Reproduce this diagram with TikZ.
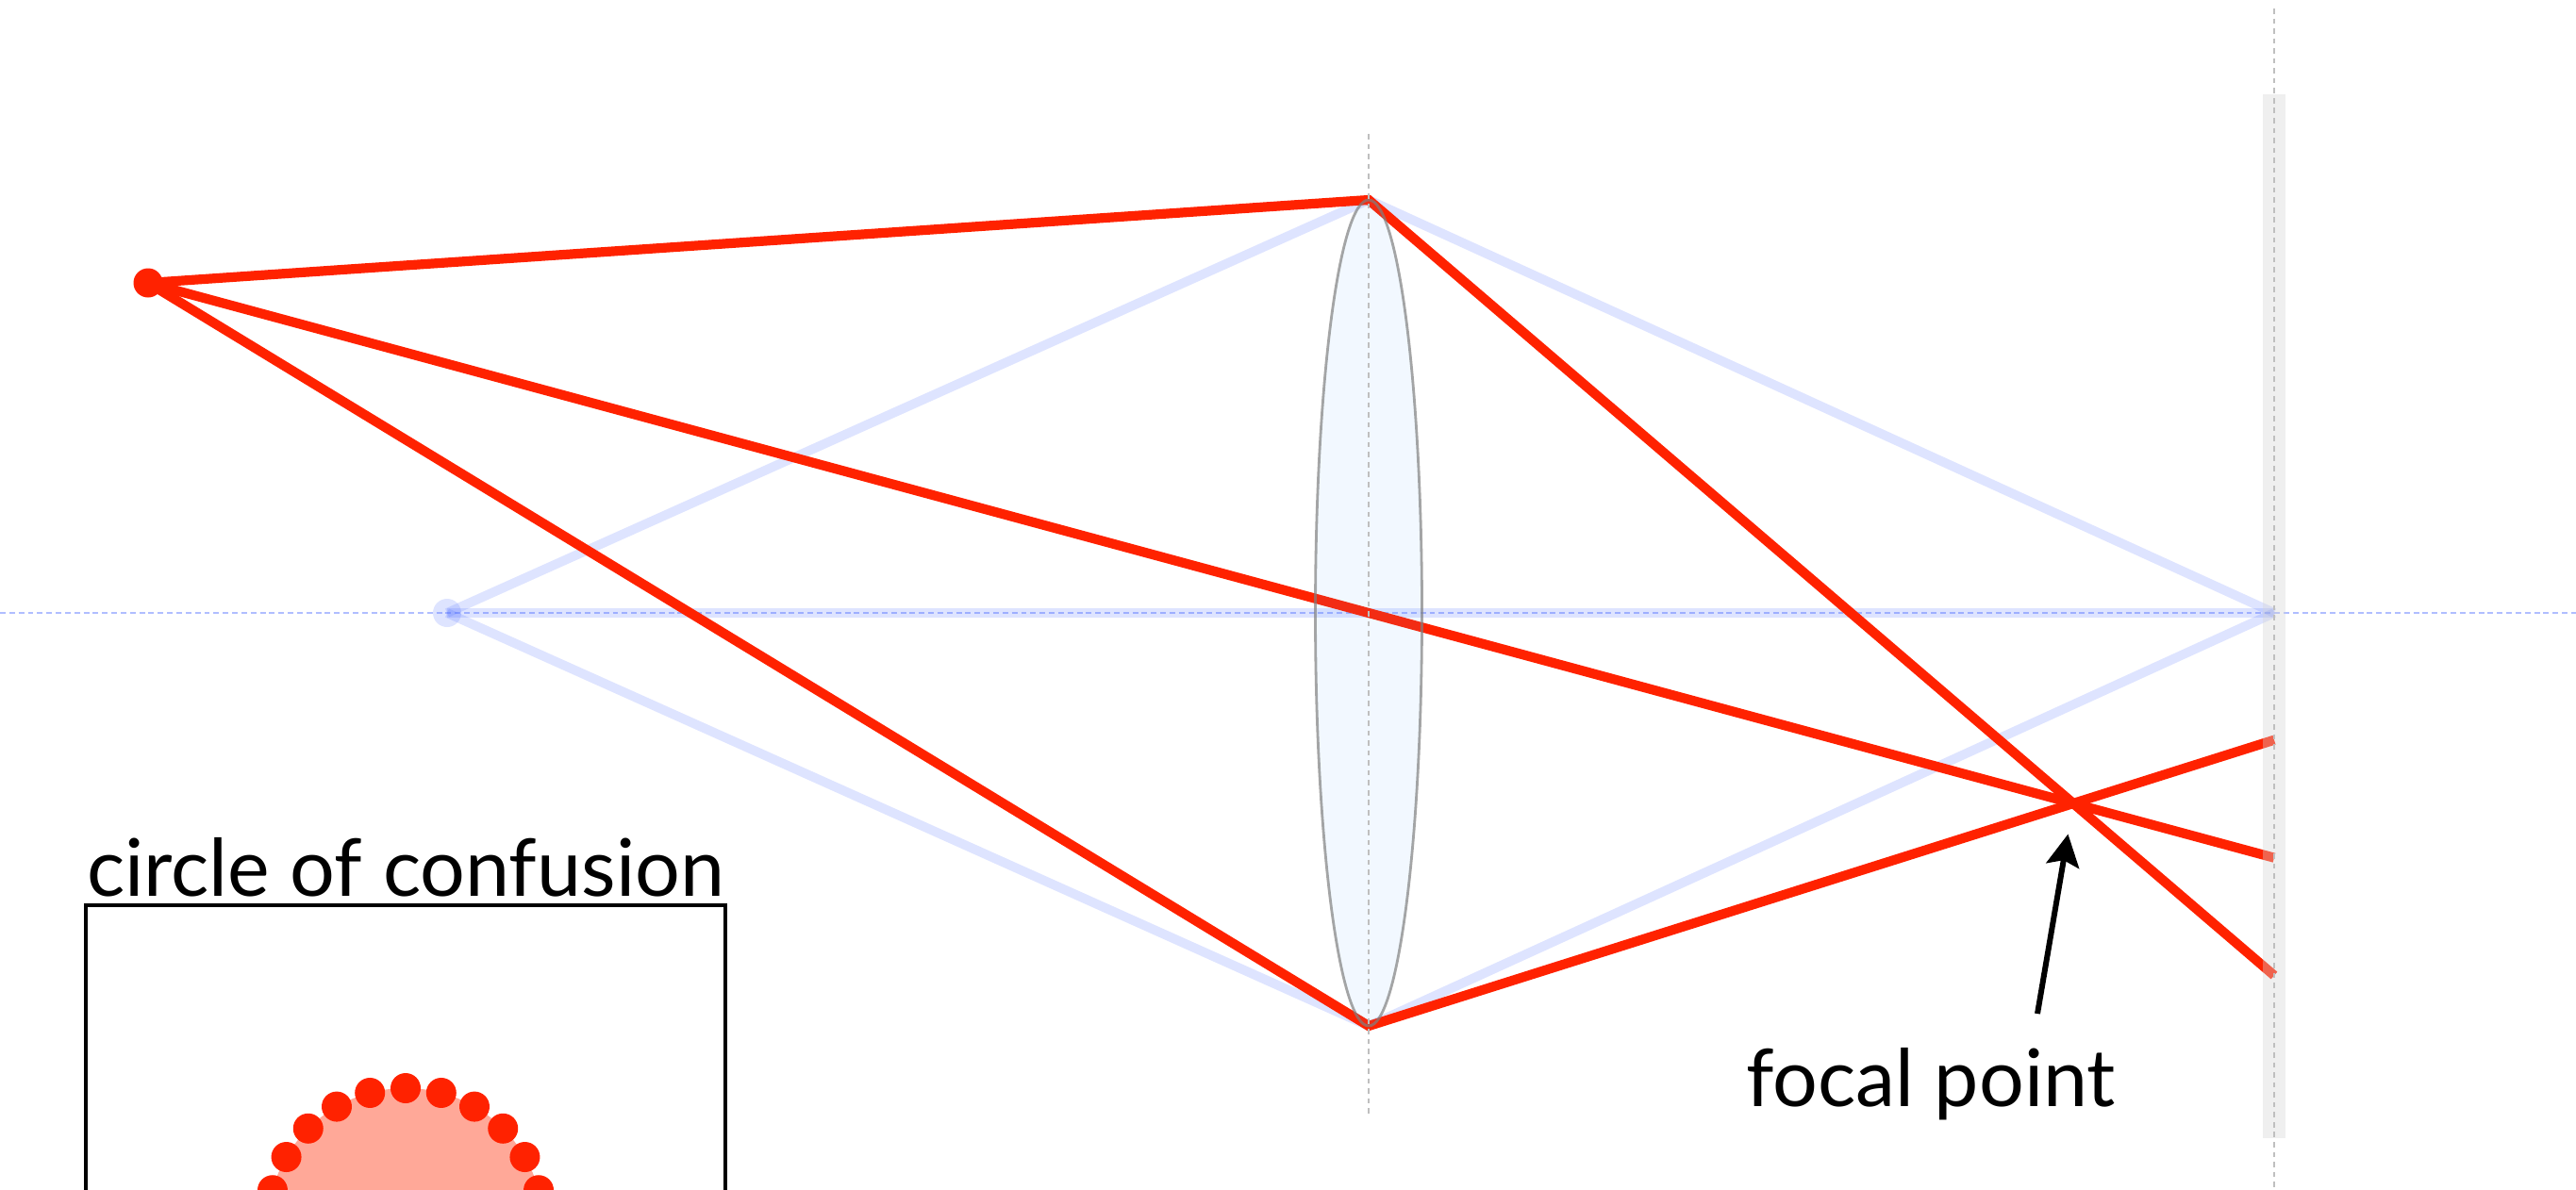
\documentclass[tikz,border=0pt]{standalone}
\usepackage{fontspec}
\setmainfont{Lato}
\usetikzlibrary{positioning,calc,intersections,arrows.meta}
\tikzset{>=stealth}
\definecolor{rayred}{RGB}{255,34,0}
\definecolor{ghostblue}{RGB}{80,110,255}
\definecolor{lensblue}{RGB}{90,170,255}
\definecolor{cocfill}{RGB}{255,168,152}
\definecolor{sensorgray}{RGB}{212,212,212}
\tikzset{
  ray/.style={rayred, line width=2.9pt},
  ghost/.style={ghostblue, line width=2.8pt, opacity=.19},
  guide/.style={gray!50, line width=.75pt, dash pattern=on 1.6pt off 1.4pt},
  axisline/.style={ghostblue, opacity=.45, line width=.75pt, dash pattern=on 1.7pt off 1.1pt},
  textlabel/.style={font=\fontsize{24}{29}\selectfont, inner sep=0pt},
  pointer/.style={-{Stealth[length=.34cm,width=.35cm,inset=.06cm]}, line width=1.7pt, shorten >=.33cm},
}

\begin{document}
\begin{tikzpicture}[x=1cm,y=-1cm]
\useasboundingbox (0,0) rectangle (27.31,12.61);
\clip (0,0) rectangle (27.31,12.61);
\coordinate (src) at (1.57,3.00);
\coordinate (lc) at (14.51,6.50);
\coordinate (ltop) at (14.51,2.12);
\coordinate (lbot) at (14.51,10.88);
\coordinate (img) at (4.74,6.50);
\coordinate (sen) at (24.11,6.50);
\coordinate (fp) at (21.98,8.52);
\path[name path=sensor] (24.11,0) -- (24.11,12.61);
% optical axis
\draw[axisline] (0,6.5) -- (27.31,6.5);
% ghost rays
\draw[ghost] (img) -- (ltop) -- (sen);
\draw[ghost] (img) -- (lbot) -- (sen);
\draw[ghost] (img) -- (sen);
\fill[ghostblue, opacity=.19] (img) circle (.15);
% red rays, cut at the sensor
\path[name path=r1] (ltop) -- ($(ltop)!1.5!(fp)$);
\path[name path=r2] (lbot) -- ($(lbot)!1.5!(fp)$);
\path[name path=r3] (src) -- ($(src)!2!(lc)$);
\path[name intersections={of=r1 and sensor,by=e1}];
\path[name intersections={of=r2 and sensor,by=e2}];
\path[name intersections={of=r3 and sensor,by=e3}];
\draw[ray] (src) -- (ltop) -- (e1);
\draw[ray] (src) -- (lbot) -- (e2);
\draw[ray] (src) -- (e3);
\fill[rayred] (src) circle (.155);
% lens
\draw[gray, line width=.8pt, draw opacity=.7, fill=lensblue, fill opacity=.08] (lc) ellipse [x radius=.565, y radius=4.38];
\draw[guide] (14.51,1.42) -- (14.51,11.82);
% sensor
\fill[sensorgray, opacity=.37] (23.99,1.00) rectangle (24.23,12.07);
\draw[guide] (24.11,.09) -- (24.11,12.61);
% focal point
\node[textlabel, anchor=base] (fplabel) at (20.47,11.73) {focal point};
\coordinate (atail) at (21.60,10.75);
\draw[pointer] (atail) -- (fp);
% inset
\node[textlabel, anchor=base] (coclabel) at (4.30,9.50) {circle of confusion};
\draw[line width=1.3pt] (0.91,9.60) rectangle (7.69,16.38);
\fill[cocfill] (4.30,13.00) circle (1.46);
\foreach \a in {0,15,...,345}
  \fill[rayred] (4.30,13.00) ++(\a:1.46) circle (.16);
\end{tikzpicture}
\end{document}
